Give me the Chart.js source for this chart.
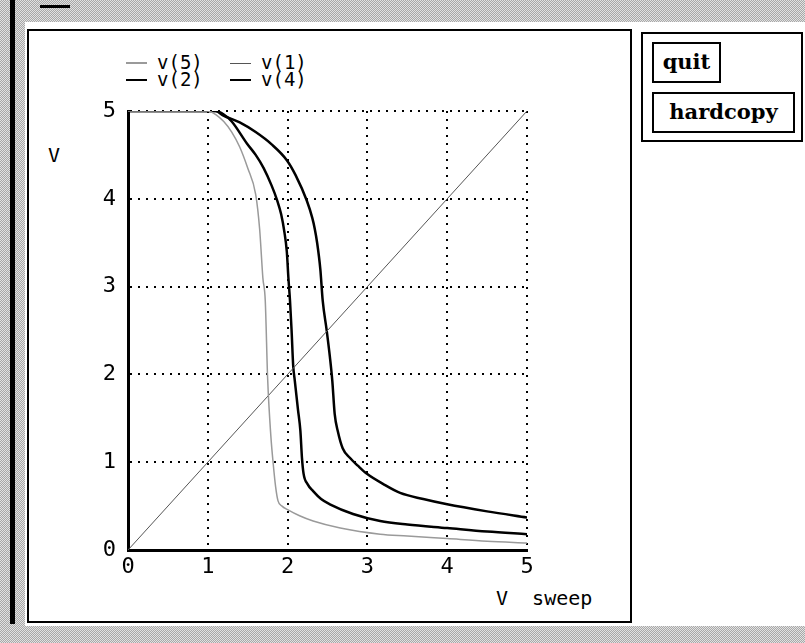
<!DOCTYPE html>
<html>
<head>
<meta charset="utf-8">
<script src="https://cdn.jsdelivr.net/npm/chart.js@4/dist/chart.umd.min.js"></script>
<style>
  html, body { margin: 0; padding: 0; }
  body { width: 805px; height: 643px; position: relative; overflow: hidden; background: #fff; font-family: "DejaVu Sans Mono", monospace; }
  .grey { position: absolute; background: repeating-conic-gradient(#a8a8a8 0 25%, #e2e2e2 0 50%) 0 0 / 2px 2px; }
  .box { position: absolute; border: 2px solid #000; box-sizing: border-box; }
  .btn { position: absolute; border: 2px solid #000; box-sizing: border-box; font-family: "DejaVu Serif", serif; font-weight: bold; font-size: 21px; text-align: center; color: #000; }
  .lbl { position: absolute; color: #000; white-space: pre; line-height: 1; }
  #chart { position: absolute; left: 0; top: 0; }
</style>
</head>
<body>
<div class="grey" style="left:0;top:0;width:805px;height:22px"></div>
<div class="grey" style="left:0;top:0;width:25px;height:643px"></div>
<div class="grey" style="left:0;top:626px;width:805px;height:17px"></div>
<div style="position:absolute;left:10px;top:0;width:5px;height:624px;background:#000"></div>
<div style="position:absolute;left:40px;top:5px;width:30px;height:3px;background:#000"></div>

<div class="box" style="left:27px;top:29px;width:605px;height:594px"></div>

<div class="box" style="left:641px;top:32px;width:162px;height:110px"></div>
<div class="btn" style="left:652px;top:42px;width:69px;height:41px;line-height:36px">quit</div>
<div class="btn" style="left:652px;top:92px;width:143px;height:41px;line-height:36px">hardcopy</div>

<div class="lbl" style="left:48px;top:145px;font-size:20px">V</div>
<div class="lbl" style="left:496px;top:588px;font-size:20px">V  sweep</div>

<div id="legend"></div>
<canvas id="chart" width="805" height="643"></canvas>

<script>
// sweep values (x) and node voltages (y)
const v1X = [0, 5];
const v1Y = [0, 5];

const v5X = [0, 1.0, 1.1, 1.2, 1.3, 1.4, 1.5, 1.6, 1.65, 1.69, 1.72, 1.75, 1.79, 1.82, 1.85, 1.88, 1.93, 2.0, 2.15, 2.32, 2.66, 3.16, 3.5, 4.0, 4.5, 5.0];
const v5Y = [5, 5, 4.96, 4.88, 4.76, 4.59, 4.35, 4.05, 3.65, 3.1, 2.84, 1.95, 1.3, 0.98, 0.72, 0.56, 0.5, 0.46, 0.39, 0.33, 0.25, 0.18, 0.16, 0.13, 0.1, 0.08];

const v4X = [0, 1.1, 1.2, 1.3, 1.49, 1.6, 1.7, 1.8, 1.87, 1.92, 1.96, 1.99, 2.01, 2.03, 2.05, 2.07, 2.09, 2.13, 2.16, 2.18, 2.2, 2.25, 2.32, 2.42, 2.53, 2.82, 3.16, 3.5, 4.0, 4.5, 5.0];
const v4Y = [5, 5, 4.96, 4.88, 4.63, 4.5, 4.35, 4.15, 3.98, 3.82, 3.62, 3.4, 3.1, 2.84, 2.5, 2.1, 1.93, 1.6, 1.36, 1.05, 0.87, 0.75, 0.67, 0.58, 0.52, 0.41, 0.33, 0.29, 0.25, 0.21, 0.18];

const v2X = [0, 1.1, 1.19, 1.4, 1.6, 1.8, 1.99, 2.1, 2.24, 2.31, 2.34, 2.37, 2.41, 2.44, 2.49, 2.53, 2.56, 2.59, 2.63, 2.69, 2.78, 2.88, 2.99, 3.2, 3.41, 3.7, 4.0, 4.5, 5.0];
const v2Y = [5, 5, 4.95, 4.87, 4.76, 4.62, 4.44, 4.27, 3.98, 3.78, 3.66, 3.5, 3.2, 2.84, 2.5, 2.2, 1.93, 1.55, 1.35, 1.16, 1.05, 0.96, 0.87, 0.75, 0.65, 0.58, 0.52, 0.44, 0.37];

const xTicks = [0, 1, 2, 3, 4, 5];
const yTicks = [0, 1, 2, 3, 4, 5];

function pts(xs, ys) {
  return xs.map((x, i) => ({ x: x, y: ys[i] }));
}

const series = [
  { label: 'v(5)', data: pts(v5X, v5Y), borderColor: '#9a9a9a', borderWidth: 1.5 },
  { label: 'v(1)', data: pts(v1X, v1Y), borderColor: '#555555', borderWidth: 1 },
  { label: 'v(2)', data: pts(v2X, v2Y), borderColor: '#000000', borderWidth: 2.5 },
  { label: 'v(4)', data: pts(v4X, v4Y), borderColor: '#000000', borderWidth: 2.5 }
];

// legend: 2 x 2 grid like the original
const legendPos = [[126, 63], [230, 63], [126, 80], [230, 80]];
const legend = document.getElementById('legend');
series.forEach((s, i) => {
  const [lx, ly] = legendPos[i];
  const dash = document.createElement('div');
  dash.style.cssText = 'position:absolute;left:' + lx + 'px;top:' + (ly - s.borderWidth / 2) + 'px;width:21px;height:' + s.borderWidth + 'px;background:' + s.borderColor;
  legend.appendChild(dash);
  const t = document.createElement('div');
  t.className = 'lbl';
  t.style.cssText = 'left:' + (lx + 31) + 'px;top:' + (ly - 10) + 'px;font-size:19px';
  t.textContent = s.label;
  legend.appendChild(t);
});

const tickFont = { family: 'DejaVu Sans Mono', size: 22 };

new Chart(document.getElementById('chart'), {
  type: 'scatter',
  data: {
    datasets: series.map(s => ({
      label: s.label,
      data: s.data,
      showLine: true,
      borderColor: s.borderColor,
      borderWidth: s.borderWidth,
      pointRadius: 0,
      cubicInterpolationMode: 'monotone'
    }))
  },
  options: {
    responsive: false,
    animation: false,
    layout: { padding: { left: 0, right: 278, top: 111, bottom: 0 } },
    plugins: { legend: { display: false }, tooltip: { enabled: false } },
    scales: {
      x: {
        type: 'linear',
        min: 0,
        max: 5,
        afterFit: (scale) => { scale.height = 93; },
        afterBuildTicks: (scale) => { scale.ticks = xTicks.map(v => ({ value: v })); },
        ticks: { color: '#000', font: tickFont, padding: 4, maxRotation: 0 },
        grid: { color: '#000', lineWidth: 2, drawTicks: false },
        border: { color: '#000', width: 3, dash: [2, 6] }
      },
      y: {
        type: 'linear',
        min: 0,
        max: 5,
        afterFit: (scale) => { scale.width = 128; },
        afterBuildTicks: (scale) => { scale.ticks = yTicks.map(v => ({ value: v })); },
        ticks: { color: '#000', font: tickFont, padding: 12 },
        grid: { color: '#000', lineWidth: 2, drawTicks: false },
        border: { color: '#000', width: 3, dash: [2, 6] }
      }
    }
  }
});
</script>
</body>
</html>
